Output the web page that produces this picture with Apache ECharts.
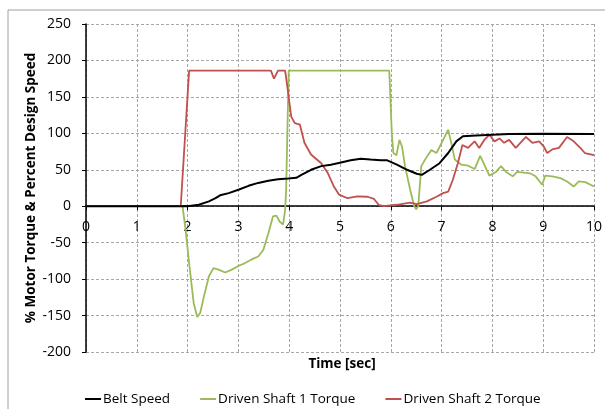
<!DOCTYPE html>
<html>
<head>
<meta charset="utf-8">
<script src="https://cdn.jsdelivr.net/npm/echarts@6/dist/echarts.min.js"></script>
<style>
  html, body { margin: 0; padding: 0; background: #fff; }
  #chart { width: 605px; height: 409px; }
</style>
</head>
<body>
<div id="chart"></div>
<script>
// belt speed (% of design speed) over time [sec]
var beltT = [0, 2.0, 2.22, 2.42, 2.55, 2.64, 2.81, 3.0, 3.2, 3.39, 3.59, 3.78, 3.98, 4.14, 4.24, 4.43, 4.63, 4.82, 5.02, 5.21, 5.41, 5.6, 5.8, 5.93, 6.12, 6.32, 6.51, 6.61, 6.77, 6.96, 7.13, 7.29, 7.42, 7.68, 8.33, 8.98, 10];
var beltV = [0, 0, 2, 6.6, 11, 15, 18, 22.6, 28, 32, 35, 37, 38, 39, 43, 50, 55, 57, 60, 63, 65, 64, 63, 63, 57, 50, 44.6, 43, 50, 59, 73, 89, 96, 97, 99, 99.5, 99];

// driven shaft 1 torque (%)
var shaft1T = [0, 1.90, 1.96, 2.03, 2.12, 2.19, 2.25, 2.32, 2.42, 2.51, 2.61, 2.74, 2.87, 3.0, 3.13, 3.26, 3.39, 3.49, 3.59, 3.68, 3.75, 3.81, 3.88, 3.92, 3.94, 3.99, 5.97, 6.02, 6.05, 6.11, 6.17, 6.22, 6.28, 6.38, 6.46, 6.50, 6.54, 6.60, 6.71, 6.80, 6.90, 7.03, 7.13, 7.19, 7.26, 7.39, 7.52, 7.65, 7.76, 7.84, 7.94, 8.07, 8.17, 8.27, 8.40, 8.49, 8.62, 8.75, 8.85, 8.98, 9.04, 9.18, 9.34, 9.47, 9.60, 9.70, 9.83, 10];
var shaft1V = [0, 0, -32, -78, -133, -152, -146, -124, -96, -85, -87, -91, -87, -82, -78, -73, -69, -60, -37, -14, -13, -21, -25, -5, 23, 186, 186, 100, 73, 70, 91, 82, 55, 23, 0, -4, 0, 55, 68, 77, 73, 91, 105, 87, 64, 57, 55.6, 51, 69, 57, 42, 47, 55, 47, 41, 47, 46, 45, 41, 29.5, 42, 41, 38.6, 34, 27, 34, 33, 27];

// driven shaft 2 torque (%)
var shaft2T = [0, 1.865, 2.03, 3.64, 3.70, 3.78, 3.92, 3.98, 4.04, 4.11, 4.21, 4.30, 4.43, 4.63, 4.76, 4.88, 4.98, 5.15, 5.34, 5.54, 5.67, 5.76, 5.86, 6.12, 6.38, 6.51, 6.71, 6.90, 7.03, 7.13, 7.22, 7.32, 7.41, 7.52, 7.65, 7.74, 7.84, 7.94, 8.04, 8.14, 8.23, 8.33, 8.46, 8.66, 8.79, 8.92, 9.01, 9.08, 9.18, 9.31, 9.47, 9.60, 9.73, 9.82, 10];
var shaft2V = [0, 0, 186, 186, 175, 186, 186, 155, 123, 114, 112, 87, 71, 59, 45.5, 27, 16, 11, 13.4, 13, 10, 2, 0, 2, 5, 3, 6.6, 13, 18, 20, 36, 59, 84, 80, 89, 80, 91, 98, 89, 93, 87, 91, 80, 95, 87, 89, 82, 73, 78, 80, 95, 89, 80, 73, 70];

var seriesNames = ['Belt Speed', 'Driven Shaft 1 Torque', 'Driven Shaft 2 Torque'];

function pairs(t, v) {
  return t.map(function (x, i) { return [x, v[i]]; });
}

var font = '"Open Sans", "Liberation Sans", sans-serif';
var gridColor = '#a6a6a6';

// plot box
var gridTop = 24, gridBottom = 57, chartH = 409;
var yMin = -200, yMax = 250;
// x axis sits on the zero line of the y axis
var plotH = chartH - gridTop - gridBottom;
var zeroOffset = -plotH * (0 - yMin) / (yMax - yMin);

var chart = echarts.init(document.getElementById('chart'));
chart.setOption({
  animation: false,
  textStyle: { fontFamily: font },
  grid: { left: 86, right: 6, top: gridTop, bottom: gridBottom },
  graphic: [
    {
      type: 'rect',
      shape: { x: 8, y: 10, width: 620, height: 420 },
      style: { fill: 'none', stroke: '#a0a0a0', lineWidth: 1 },
      silent: true
    },
    {
      type: 'text',
      x: 342, y: 364,
      style: {
        text: 'Time [sec]', fontFamily: font, fontSize: 13.5, fontWeight: 'bold',
        fill: '#000', align: 'center', verticalAlign: 'middle'
      }
    }
  ],
  legend: {
    data: seriesNames,
    top: 387,
    left: 80,
    icon: 'rect',
    itemWidth: 16,
    itemHeight: 2,
    itemGap: 30,
    textStyle: { fontFamily: font, fontSize: 13.5, color: '#000', padding: [0, 0, 0, -3] }
  },
  xAxis: {
    type: 'value',
    min: 0, max: 10, interval: 1,
    offset: zeroOffset,
    axisLine: { onZero: false, lineStyle: { color: '#000', width: 1.5 } },
    axisTick: { show: true, length: 4, lineStyle: { color: '#000' } },
    axisLabel: { color: '#000', fontSize: 14, margin: 14, fontFamily: font },
    splitLine: { show: true, lineStyle: { color: gridColor, type: [3, 2] } }
  },
  yAxis: {
    type: 'value',
    min: yMin, max: yMax, interval: 50,
    name: '% Motor Torque & Percent Design Speed',
    nameLocation: 'middle',
    nameGap: 48,
    nameMoveOverlap: false,
    nameTextStyle: { color: '#000', fontSize: 13.5, fontWeight: 'bold', fontFamily: font },
    axisLine: { show: true, lineStyle: { color: '#000', width: 1.5 } },
    axisTick: { show: true, length: 4, lineStyle: { color: '#000' } },
    axisLabel: { color: '#000', fontSize: 14, margin: 15, fontFamily: font },
    splitLine: { show: true, lineStyle: { color: gridColor, type: [3, 2] } }
  },
  series: [
    {
      name: seriesNames[0], type: 'line', symbol: 'none', z: 3,
      lineStyle: { color: '#000000', width: 2 }, itemStyle: { color: '#000000' },
      data: pairs(beltT, beltV)
    },
    {
      name: seriesNames[1], type: 'line', symbol: 'none', z: 2,
      lineStyle: { color: '#9bbb59', width: 1.8 }, itemStyle: { color: '#9bbb59' },
      data: pairs(shaft1T, shaft1V)
    },
    {
      name: seriesNames[2], type: 'line', symbol: 'none', z: 2,
      lineStyle: { color: '#c0504d', width: 1.8 }, itemStyle: { color: '#c0504d' },
      data: pairs(shaft2T, shaft2V)
    }
  ]
});
</script>
</body>
</html>
